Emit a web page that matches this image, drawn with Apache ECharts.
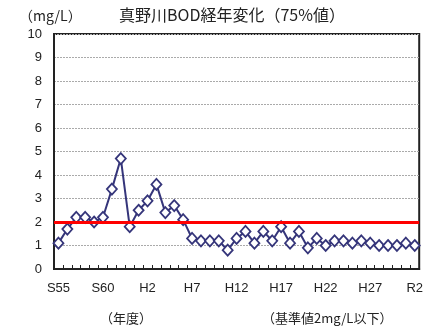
<!DOCTYPE html>
<html>
<head>
<meta charset="utf-8">
<script src="https://cdn.jsdelivr.net/npm/echarts@6/dist/echarts.min.js"></script>
<style>
  html, body { margin: 0; padding: 0; background: #fff; }
  #chart { width: 426px; height: 328px; }
</style>
</head>
<body>
<div id="chart"></div>
<script>
// Fiscal years S55 (1980) through R2 (2020)
const years = [
  'S55','S56','S57','S58','S59','S60','S61','S62','S63',
  'H1','H2','H3','H4','H5','H6','H7','H8','H9','H10',
  'H11','H12','H13','H14','H15','H16','H17','H18','H19','H20',
  'H21','H22','H23','H24','H25','H26','H27','H28','H29','H30',
  'R1','R2'
];

// BOD 75% values (mg/L)
const bod75 = [
  1.1, 1.7, 2.2, 2.2, 2.0, 2.2, 3.4, 4.7, 1.8,
  2.5, 2.9, 3.6, 2.4, 2.7, 2.1, 1.3, 1.2, 1.2, 1.2,
  0.8, 1.3, 1.6, 1.1, 1.6, 1.2, 1.8, 1.1, 1.6, 0.9,
  1.3, 1.0, 1.2, 1.2, 1.1, 1.2, 1.1, 1.0, 1.0, 1.0,
  1.1, 1.0
];

// Environmental standard (mg/L)
const standardLimit = 2;

// Value axis range
const yMin = 0;
const yMax = 10;
const yStep = 1;

const textColor = '#222';
const latin = '"Liberation Sans", Arial, sans-serif';
const cjk = '"Noto Sans CJK JP", sans-serif';

const chart = echarts.init(document.getElementById('chart'), null, { renderer: 'canvas' });

chart.setOption({
  animation: false,
  backgroundColor: '#fff',
  grid: {
    left: 54, right: 2, top: 34, bottom: 59,
    show: true, borderColor: '#222', borderWidth: 2, backgroundColor: 'transparent'
  },
  graphic: [
    { type: 'text', left: 19, top: 9,
      style: { text: '（mg/L）', fontSize: 14, fontFamily: cjk, fill: textColor } },
    { type: 'text', left: 119, top: 7,
      style: { text: '真野川BOD経年変化（75%値）', fontSize: 16, fontFamily: cjk, fill: textColor } },
    { type: 'text', left: 100, top: 312,
      style: { text: '（年度）', fontSize: 13, fontFamily: cjk, fill: textColor } },
    { type: 'text', left: 262, top: 312,
      style: { text: '（基準値2mg/L以下）', fontSize: 13, fontFamily: cjk, fill: textColor } }
  ],
  xAxis: {
    type: 'category',
    data: years,
    boundaryGap: true,
    axisLine: { show: true, lineStyle: { color: '#222', width: 2 } },
    axisTick: { show: true, inside: true, length: 4, interval: 0, lineStyle: { color: '#222', width: 1 } },
    axisLabel: { interval: 4, margin: 13, fontSize: 13, fontFamily: latin, color: textColor },
    splitLine: { show: false }
  },
  yAxis: {
    type: 'value',
    min: yMin, max: yMax, interval: yStep,
    axisLine: { show: true, lineStyle: { color: '#222', width: 2 } },
    axisTick: { show: false },
    axisLabel: { margin: 12, fontSize: 13, fontFamily: latin, color: textColor },
    splitLine: { show: true, lineStyle: { color: '#aaa', width: 1, type: [2, 1] } }
  },
  series: [
    {
      name: 'BOD',
      type: 'line',
      data: bod75,
      z: 2,
      symbol: 'diamond',
      symbolSize: [10, 11],
      showAllSymbol: true,
      lineStyle: { color: '#35357a', width: 2 },
      itemStyle: { color: '#ffffff', borderColor: '#35357a', borderWidth: 1.8 }
    },
    {
      // standard line drawn above the data
      name: 'standard',
      type: 'line',
      data: [],
      z: 5,
      silent: true,
      markLine: {
        silent: true,
        symbol: 'none',
        label: { show: false },
        lineStyle: { color: '#ff0000', width: 3, type: 'solid' },
        data: [{ yAxis: standardLimit }]
      }
    }
  ]
});
</script>
</body>
</html>
